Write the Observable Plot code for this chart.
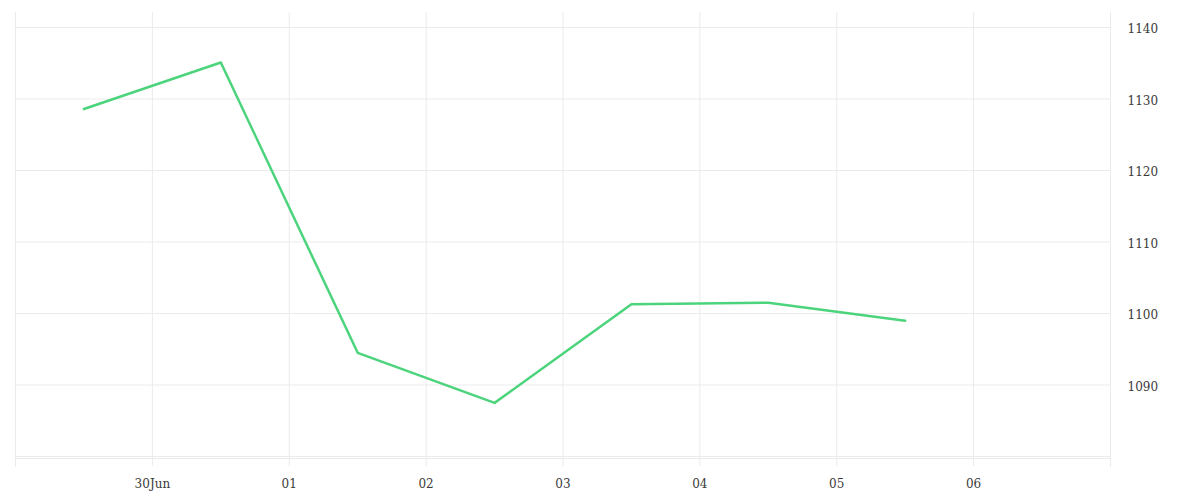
<!DOCTYPE html>
<html>
<head>
<meta charset="utf-8">
<script src="https://cdn.jsdelivr.net/npm/d3@7"></script>
<script src="https://cdn.jsdelivr.net/npm/@observablehq/plot@0.6"></script>
<style>
  html, body { margin: 0; padding: 0; background: #fff; }
  #chart { width: 1200px; height: 500px; }
  svg { font-family: "DejaVu Serif", serif; }
</style>
</head>
<body>
<div id="chart"></div>
<script>
// Data
const dates = ["2023-06-29T12:00", "2023-06-30T12:00", "2023-07-01T12:00", "2023-07-02T12:00", "2023-07-03T12:00", "2023-07-04T12:00", "2023-07-05T12:00"];
const values = [1128.6, 1135.1, 1094.5, 1087.5, 1101.3, 1101.5, 1099.0];
const xTickDates = ["2023-06-30", "2023-07-01", "2023-07-02", "2023-07-03", "2023-07-04", "2023-07-05", "2023-07-06"];
const xTickLabels = ["30Jun", "01", "02", "03", "04", "05", "06"];
const yTicks = [1090, 1100, 1110, 1120, 1130, 1140];
const yGrid = [1080, 1090, 1100, 1110, 1120, 1130, 1140];
const xDomain = ["2023-06-29", "2023-07-07"];
const yDomain = [1079.72, 1142.1];

const parse = s => new Date(s);
const rows = dates.map((d, i) => ({date: parse(d), value: values[i]}));
const tickDates = xTickDates.map(parse);
const labelOf = new Map(tickDates.map((d, i) => [+d, xTickLabels[i]]));
const xDom = xDomain.map(parse);

const gridColor = "#ebebeb";

const plot = Plot.plot({
  width: 1200,
  height: 500,
  marginLeft: 15,
  marginRight: 90,
  marginTop: 12,
  marginBottom: 42,
  style: {fontFamily: "DejaVu Serif, serif", fontSize: "12px", color: "#3a3a3a", background: "#fff"},
  x: {type: "time", domain: xDom, label: null},
  y: {domain: yDomain, label: null},
  marks: [
    Plot.ruleY(yGrid, {stroke: gridColor, strokeWidth: 1}),
    Plot.ruleX(tickDates, {stroke: gridColor, strokeWidth: 1, insetBottom: -8}),
    Plot.ruleX(xDom, {stroke: gridColor, strokeWidth: 1, insetBottom: -9}),
    Plot.ruleY([yDomain[0]], {stroke: gridColor, strokeWidth: 1}),
    Plot.axisX({ticks: tickDates, tickSize: 0, tickPadding: 21, tickFormat: d => labelOf.get(+d), fill: "#3a3a3a", label: null}),
    Plot.axisY({anchor: "right", ticks: yTicks, tickSize: 0, tickPadding: 17, textAnchor: "start", dy: 2, tickFormat: d => String(d), fill: "#3a3a3a", label: null}),
    Plot.line(rows, {x: "date", y: "value", stroke: "#4cd47c", strokeWidth: 2.5})
  ]
});
document.getElementById("chart").appendChild(plot);
</script>
</body>
</html>
